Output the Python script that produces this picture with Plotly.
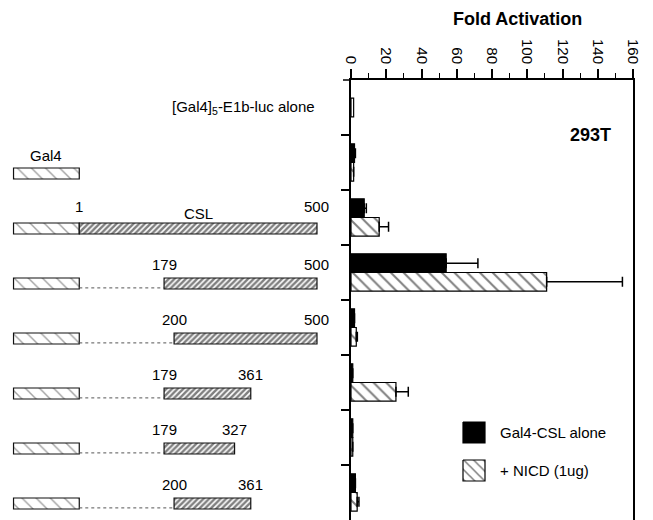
import plotly.graph_objects as go

W, H = 653, 520
FONT = "Liberation Sans"

# ---------------- data ----------------
rows = [0, 1, 2, 3, 4, 5, 6, 7]
row_labels = ["[Gal4]<sub>5</sub>-E1b-luc alone", "Gal4", "Gal4-CSL 1-500", "Gal4-CSL 179-500",
              "Gal4-CSL 200-500", "Gal4-CSL 179-361", "Gal4-CSL 179-327", "Gal4-CSL 200-361"]
has_gal4 = [False, True, True, True, True, True, True, True]
csl_start = [None, None, 1, 179, 200, 179, 179, 200]
csl_end = [None, None, 500, 500, 500, 361, 327, 361]

reporter_alone = [1.5, None, None, None, None, None, None, None]
gal4_csl_alone = [None, 2, 7.5, 54, 2, 1, 1, 2.5]
gal4_csl_alone_err = [0, 0.5, 1.2, 18, 0, 0, 0, 0]
plus_nicd = [None, 1.5, 16, 111, 3, 25.5, 1, 3.5]
plus_nicd_err = [0, 0, 5.3, 43, 0.6, 7, 0, 1]

x_ticks = [0, 20, 40, 60, 80, 100, 120, 140, 160]

# schematic Gal4 domain drawn in CSL-residue units, ending where CSL residue 1 begins
GAL4_DRAWN_LEN = 138

# ---------------- layout helpers ----------------
PL, PR, PT = 351, 633, 80
xdom = [PL / W, PR / W]

fig = go.Figure()

# ---------------- main bar chart ----------------
fig.add_trace(go.Bar(
    y=rows, x=reporter_alone, orientation="h", offset=-0.17, width=0.34,
    marker=dict(color="white", line=dict(color="black", width=1.2)),
    showlegend=False, xaxis="x", yaxis="y"))

fig.add_trace(go.Bar(
    y=rows, x=gal4_csl_alone, orientation="h", offset=-0.34, width=0.34,
    marker=dict(color="black", line=dict(color="black", width=1.2)),
    error_x=dict(type="data", array=gal4_csl_alone_err, arrayminus=[0] * 8,
                 symmetric=False, color="black", thickness=1.5, width=5),
    name="Gal4-CSL alone", showlegend=False, xaxis="x", yaxis="y"))

fig.add_trace(go.Bar(
    y=rows, x=plus_nicd, orientation="h", offset=0.0, width=0.34,
    marker=dict(color="white", line=dict(color="black", width=1.2),
                pattern=dict(shape="\\", fgcolor="black", bgcolor="white", size=9, solidity=0.22)),
    error_x=dict(type="data", array=plus_nicd_err, arrayminus=[0] * 8,
                 symmetric=False, color="black", thickness=1.5, width=5),
    name="+ NICD (1ug)", showlegend=False, xaxis="x", yaxis="y"))

# ---------------- construct diagram ----------------
g_rows = [r for r, g in zip(rows, has_gal4) if g]
fig.add_trace(go.Bar(
    y=g_rows, x=[GAL4_DRAWN_LEN] * len(g_rows), base=[1 - GAL4_DRAWN_LEN] * len(g_rows),
    orientation="h", offset=0.1, width=0.2,
    marker=dict(color="white", line=dict(color="#111", width=1.2),
                pattern=dict(shape="\\", fgcolor="#444", bgcolor="white", size=10, solidity=0.14)),
    showlegend=False, xaxis="x2", yaxis="y"))

c_rows = [r for r, s in zip(rows, csl_start) if s is not None]
c_base = [s for s in csl_start if s is not None]
c_len = [e - s for s, e in zip(csl_start, csl_end) if s is not None]
fig.add_trace(go.Bar(
    y=c_rows, x=c_len, base=c_base, orientation="h", offset=0.1, width=0.2,
    marker=dict(color="white", line=dict(color="#111", width=1.2),
                pattern=dict(shape="/", fgcolor="#000", bgcolor="white", size=4, solidity=0.62)),
    showlegend=False, xaxis="x2", yaxis="y"))

# dotted linkers for truncated constructs
lx, ly = [], []
for r, s in zip(rows, csl_start):
    if s is not None and s > 1:
        lx += [1, s, None]
        ly += [r + 0.28, r + 0.28, None]
fig.add_trace(go.Scatter(x=lx, y=ly, mode="lines", line=dict(color="#555", width=1, dash="dot"),
                         showlegend=False, xaxis="x2", yaxis="y", hoverinfo="skip"))

ann = []
tf = dict(family=FONT, size=15, color="black")
ann.append(dict(x=500, y=0, xref="x2", yref="y", text=row_labels[0], showarrow=False,
                xanchor="right", yanchor="middle", font=tf))
ann.append(dict(x=1 - GAL4_DRAWN_LEN / 2, y=1 - 0.12, xref="x2", yref="y", text="Gal4",
                showarrow=False, xanchor="center", yanchor="middle", font=tf))
for r, s, e in zip(rows, csl_start, csl_end):
    if s is None:
        continue
    dy = -0.2 if s == 1 else -0.14
    ann.append(dict(x=s, y=r + dy, xref="x2", yref="y", text=str(s), showarrow=False,
                    xanchor="center", yanchor="middle", font=tf))
    ann.append(dict(x=e, y=r + dy, xref="x2", yref="y", text=str(e), showarrow=False,
                    xanchor="center", yanchor="middle", font=tf))
    if s == 1:
        ann.append(dict(x=(s + e) / 2, y=r - 0.08, xref="x2", yref="y", text="CSL", showarrow=False,
                        xanchor="center", yanchor="middle", font=tf))

# ---------------- titles ----------------
ann.append(dict(x=517 / W, y=(H - 19) / (H - PT), xref="paper", yref="paper",
                text="<b>Fold Activation</b>", showarrow=False, xanchor="center", yanchor="middle",
                font=dict(family=FONT, size=18, color="black")))
ann.append(dict(x=590 / W, y=(H - 135) / (H - PT), xref="paper", yref="paper",
                text="<b>293T</b>", showarrow=False, xanchor="center", yanchor="middle",
                font=dict(family=FONT, size=18, color="black")))

# ---------------- custom legend (pixel-like overlay axes) ----------------
legend_items = [("Gal4-CSL alone", "solid"), ("+ NICD (1ug)", "hatch")]
for i, (lab, kind) in enumerate(legend_items):
    y0 = 342 + i * 38
    xs = [112, 134, 134, 112, 112]
    ys = [y0, y0, y0 + 21, y0 + 21, y0]
    if kind == "solid":
        fig.add_trace(go.Scatter(x=xs, y=ys, mode="lines", fill="toself", fillcolor="black",
                                 line=dict(color="black", width=1.2), showlegend=False,
                                 xaxis="x3", yaxis="y3", hoverinfo="skip"))
    else:
        fig.add_trace(go.Scatter(x=xs, y=ys, mode="lines", fill="toself", fillcolor="white",
                                 fillpattern=dict(shape="\\", fgcolor="black", bgcolor="white",
                                                  size=7, solidity=0.22),
                                 line=dict(color="black", width=1.2), showlegend=False,
                                 xaxis="x3", yaxis="y3", hoverinfo="skip"))
    ann.append(dict(x=147, y=y0 + 10.5, xref="x3", yref="y3", text=lab, showarrow=False,
                    xanchor="left", yanchor="middle", font=tf))

fig.update_layout(
    width=W, height=H,
    margin=dict(l=0, r=0, t=PT, b=0, pad=0, autoexpand=False),
    paper_bgcolor="white", plot_bgcolor="white",
    barmode="overlay",
    showlegend=False,
    font=dict(family=FONT, size=15, color="black"),
    xaxis=dict(domain=xdom, range=[0, 160], side="top", anchor="y", automargin=False,
               tickvals=x_ticks, ticktext=[str(v) for v in x_ticks],
               tickangle=90, ticks="outside", ticklen=9, tickwidth=1.5, tickcolor="black",
               minor=dict(dtick=10, tick0=0, ticks="outside", ticklen=5, tickwidth=1.2, tickcolor="black"),
               showline=True, linecolor="black", linewidth=1.5, showgrid=False, zeroline=False,
               tickfont=dict(family=FONT, size=15, color="black"), fixedrange=True),
    yaxis=dict(domain=[0, 1], range=[7.5, -0.5], anchor="x", automargin=False,
               tickvals=[0.5, 1.5, 2.5, 3.5, 4.5, 5.5, 6.5], showticklabels=False,
               ticks="outside", ticklen=8, tickwidth=1.5, tickcolor="black",
               showline=True, linecolor="black", linewidth=1.5, mirror=True,
               showgrid=False, zeroline=False),
    xaxis2=dict(domain=[0, 340 / W], range=[-165.4, 548.3], anchor="y", visible=False,
                automargin=False, showgrid=False, zeroline=False),
    xaxis3=dict(range=[0, PR - PL], anchor="y3", overlaying="x", visible=False, automargin=False),
    yaxis3=dict(range=[H - PT, 0], anchor="x3", overlaying="y", visible=False, automargin=False),
    annotations=ann,
    shapes=[dict(type="line", xref="paper", yref="paper", x0=343 / W, x1=PL / W, y0=1, y1=1,
                 line=dict(color="black", width=1.5))],
)

fig.write_html("out.html")
